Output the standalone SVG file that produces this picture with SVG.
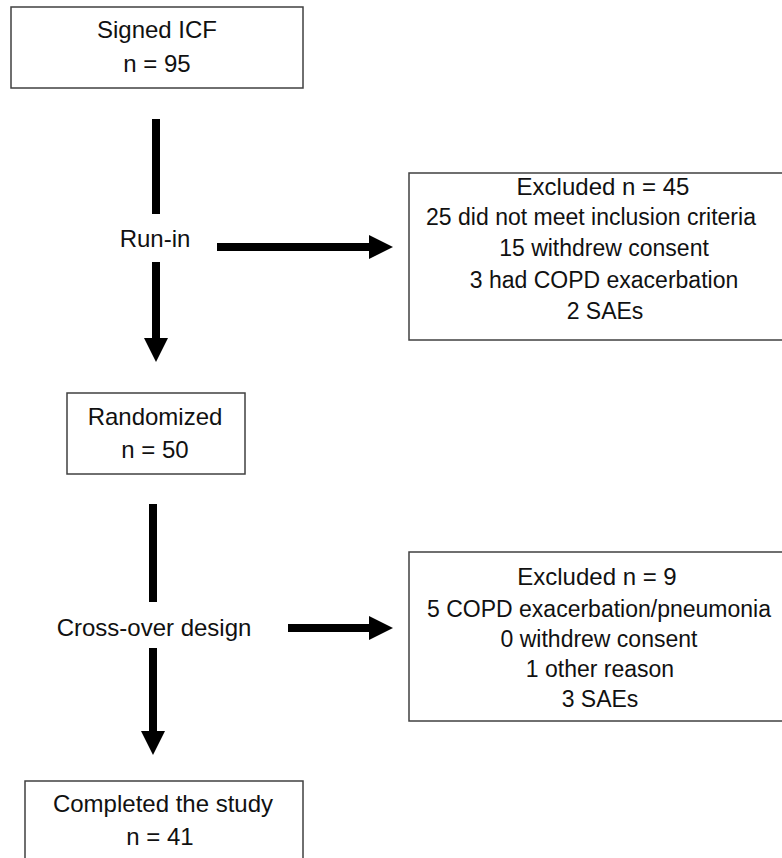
<svg xmlns="http://www.w3.org/2000/svg" width="782" height="858" viewBox="0 0 782 858">
<style>
  .box { fill: #ffffff; stroke: #404040; stroke-width: 1.5; }
  .t { font-family: "Liberation Sans", Arial, sans-serif; font-size: 24px; fill: #111111; text-anchor: middle; }
  .s { font-size: 23px; }
  .conn { stroke: #000000; stroke-width: 8; fill: none; }
</style>
<defs>
  <marker id="ah" markerUnits="userSpaceOnUse" markerWidth="24" markerHeight="24" refX="0" refY="12" orient="auto">
    <path d="M0,0 L24,12 L0,24 Z" fill="#000000"/>
  </marker>
</defs>
<rect width="782" height="858" fill="#ffffff"/>

<g id="connectors">
  <line class="conn" x1="156" y1="119" x2="156" y2="214"/>
  <line class="conn" x1="156" y1="262" x2="156" y2="338" marker-end="url(#ah)"/>
  <line class="conn" x1="217" y1="247" x2="369" y2="247" marker-end="url(#ah)"/>
  <line class="conn" x1="153" y1="504" x2="153" y2="602"/>
  <line class="conn" x1="153" y1="648" x2="153" y2="731" marker-end="url(#ah)"/>
  <line class="conn" x1="288" y1="628" x2="369" y2="628" marker-end="url(#ah)"/>
</g>

<g id="signed-icf">
  <rect class="box" x="11" y="7" width="292" height="81"/>
  <text class="t" x="157" y="38">Signed ICF</text>
  <text class="t" x="157" y="72">n = 95</text>
</g>

<g id="run-in">
  <text class="t" x="155" y="247">Run-in</text>
</g>

<g id="excluded-45">
  <rect class="box" x="409" y="173" width="400" height="167"/>
  <text class="t" x="603" y="195">Excluded n = 45</text>
  <text class="t s" x="591" y="225">25 did not meet inclusion criteria</text>
  <text class="t s" x="604" y="256">15 withdrew consent</text>
  <text class="t s" x="604" y="288">3 had COPD exacerbation</text>
  <text class="t s" x="605" y="319">2 SAEs</text>
</g>

<g id="randomized">
  <rect class="box" x="67" y="393" width="178" height="81"/>
  <text class="t" x="155" y="425">Randomized</text>
  <text class="t" x="155" y="458">n = 50</text>
</g>

<g id="cross-over">
  <text class="t" x="154" y="636">Cross-over design</text>
</g>

<g id="excluded-9">
  <rect class="box" x="409" y="552" width="400" height="169"/>
  <text class="t" x="597" y="585">Excluded n = 9</text>
  <text class="t s" x="599" y="617">5 COPD exacerbation/pneumonia</text>
  <text class="t s" x="599" y="647">0 withdrew consent</text>
  <text class="t s" x="600" y="677">1 other reason</text>
  <text class="t s" x="600" y="707">3 SAEs</text>
</g>

<g id="completed">
  <rect class="box" x="25" y="781" width="278" height="100"/>
  <text class="t" x="163" y="812">Completed the study</text>
  <text class="t" x="160" y="845">n = 41</text>
</g>
</svg>
